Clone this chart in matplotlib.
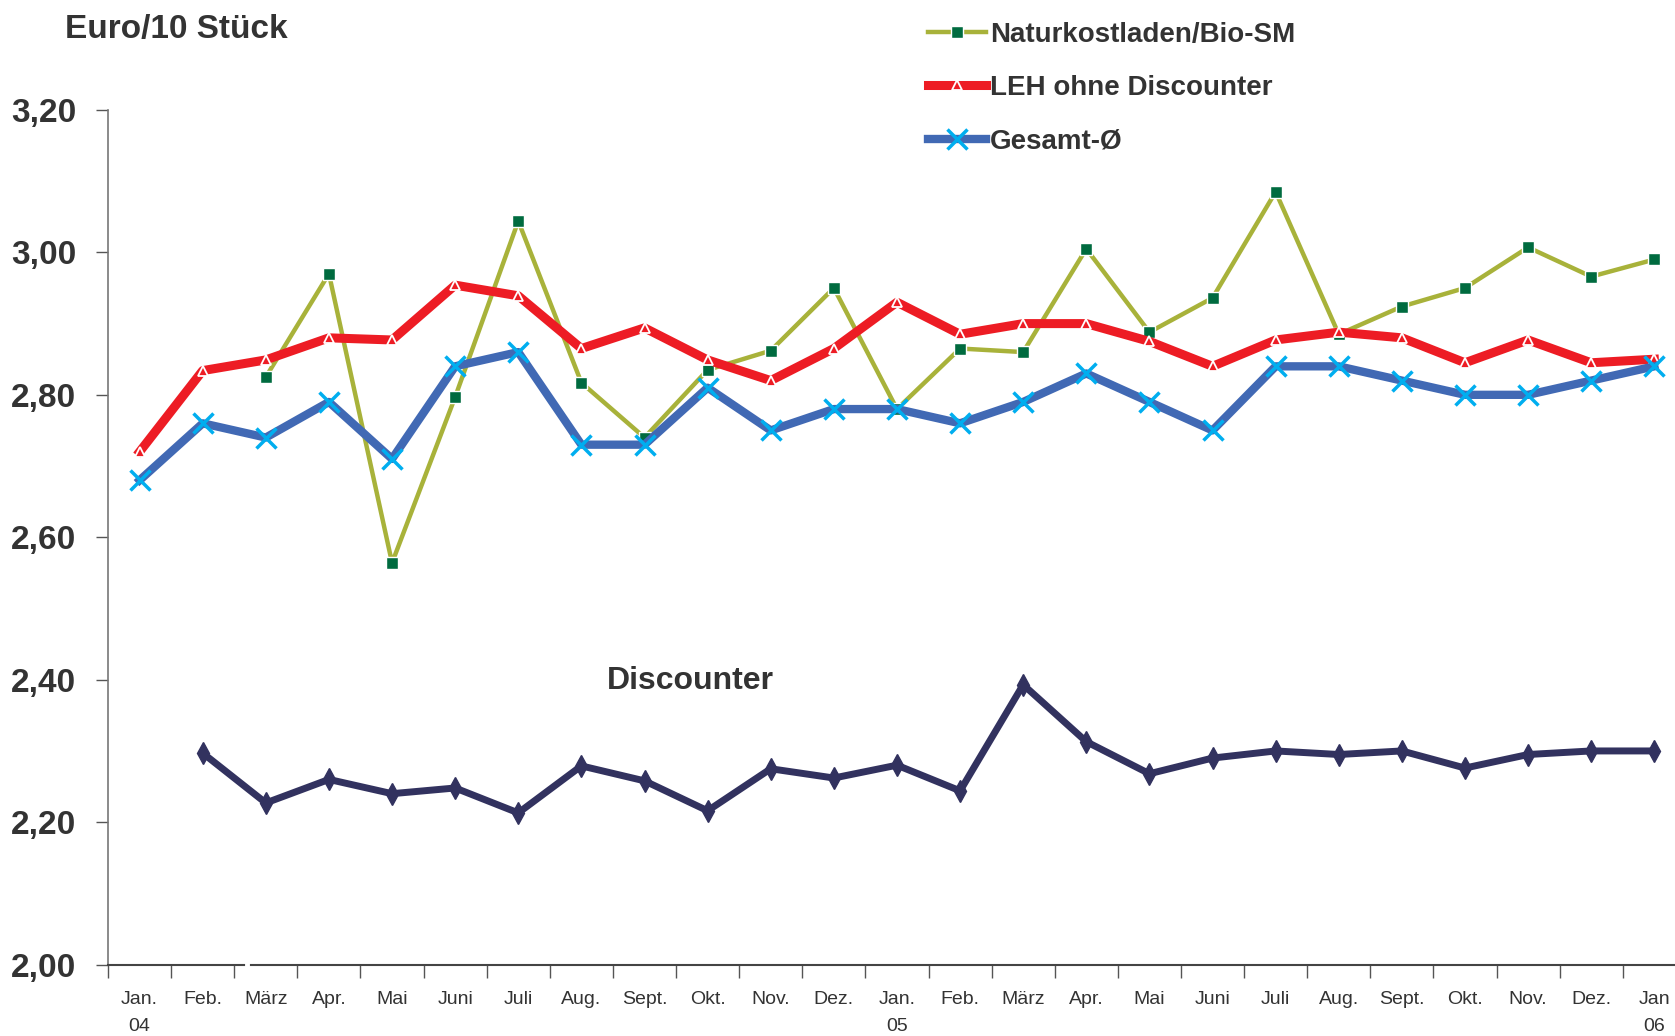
import numpy as np
import matplotlib
matplotlib.use("Agg")
import matplotlib.pyplot as plt
from matplotlib.ticker import FixedLocator, NullFormatter

plt.rcParams["font.family"] = ["Liberation Sans", "DejaVu Sans"]

# --- data -------------------------------------------------------------
MONTHS = ["Jan.\n04", "Feb.", "März", "Apr.", "Mai", "Juni", "Juli", "Aug.",
          "Sept.", "Okt.", "Nov.", "Dez.", "Jan.\n05", "Feb.", "März", "Apr.",
          "Mai", "Juni", "Juli", "Aug.", "Sept.", "Okt.", "Nov.", "Dez.",
          "Jan\n06"]

# Naturkostladen/Bio-SM: no values for Jan./Feb. 04
naturkost = [np.nan, np.nan, 2.825, 2.97, 2.564, 2.797, 3.044, 2.817, 2.74,
             2.835, 2.862, 2.95, 2.78, 2.865, 2.86, 3.005, 2.888, 2.936,
             3.085, 2.885, 2.924, 2.95, 3.007, 2.966, 2.99]

leh = [2.72, 2.834, 2.849, 2.88, 2.877, 2.954, 2.939, 2.865, 2.894, 2.849,
       2.82, 2.865, 2.93, 2.885, 2.90, 2.90, 2.875, 2.84, 2.877, 2.888,
       2.88, 2.845, 2.877, 2.845, 2.85]

gesamt = [2.68, 2.76, 2.74, 2.79, 2.71, 2.84, 2.86, 2.73, 2.73, 2.81, 2.75,
          2.78, 2.78, 2.76, 2.79, 2.83, 2.79, 2.75, 2.84, 2.84, 2.82, 2.80,
          2.80, 2.82, 2.84]

# Discounter: no value for Jan. 04
discounter = [np.nan, 2.297, 2.227, 2.26, 2.24, 2.248, 2.213, 2.279, 2.258,
              2.216, 2.275, 2.262, 2.28, 2.244, 2.393, 2.313, 2.268, 2.29,
              2.30, 2.295, 2.30, 2.276, 2.295, 2.30, 2.30]

Y_TICKS = [2.0, 2.2, 2.4, 2.6, 2.8, 3.0, 3.2]

TXT = "#333333"

fig = plt.figure(figsize=(16.75, 10.36), dpi=100)
ax = fig.add_axes([0.0645, 0.0689, 0.942, 0.825])

x = np.arange(len(MONTHS))

ax.plot(x, naturkost, color="#A8B23A", lw=3.2, marker="s", ms=9,
        mfc="#006B3F", mec="white", mew=1.0, zorder=3,
        label="Naturkostladen/Bio-SM")
ax.plot(x, leh, color="#ED1C24", lw=6.5, marker="^", ms=6.5,
        mfc="#ED1C24", mec="white", mew=1.3, zorder=4,
        label="LEH ohne Discounter")
ax.plot(x, gesamt, color="#4169B4", lw=6.0, marker="x", ms=15,
        mec="#00AEEF", mew=2.5, zorder=5, label="Gesamt-Ø")
ax.plot(x, discounter, color="#32325F", lw=5.0, marker="d", ms=11,
        mfc="#32325F", mec="#32325F", zorder=5)

# small white break that sits on the axis between Feb. and März
ax.plot([1.7, 1.7], [1.99, 2.235], color="white", lw=3.5, zorder=10,
        clip_on=False)

ax.text(8.72, 2.398, "Discounter", fontsize=23, fontweight="bold",
        color=TXT, ha="center", va="center")

ax.set_xlim(-0.5, len(MONTHS) - 0.5)
ax.set_ylim(2.0, 3.2)

ax.xaxis.set_major_locator(FixedLocator(x))
ax.set_xticklabels(MONTHS, fontsize=14, color=TXT, linespacing=1.75)
ax.xaxis.set_minor_locator(FixedLocator(np.arange(-0.5, len(MONTHS), 1.0)))
ax.xaxis.set_minor_formatter(NullFormatter())
ax.tick_params(axis="x", which="major", length=0, pad=19)
ax.tick_params(axis="x", which="minor", length=9, width=1.0, color="#555555")

ax.set_yticks(Y_TICKS)
ax.set_yticklabels([f"{v:.2f}".replace(".", ",") for v in Y_TICKS],
                   fontsize=24, fontweight="bold", color=TXT)
ax.tick_params(axis="y", length=9, width=1.0, color="#555555", pad=14)

for side in ("top", "right"):
    ax.spines[side].set_visible(False)
ax.spines["left"].set_color("#777777")
ax.spines["bottom"].set_color("#444444")
ax.spines["left"].set_linewidth(1.2)
ax.spines["bottom"].set_linewidth(1.5)

fig.text(0.039, 0.972, "Euro/10 Stück", fontsize=24, fontweight="bold",
         color=TXT, ha="left", va="center")

leg = fig.legend(loc="upper left", bbox_to_anchor=(0.539, 1.003),
                 frameon=False, fontsize=20, handlelength=2.1,
                 handletextpad=0.15, labelspacing=0.98, numpoints=1)
for t in leg.get_texts():
    t.set_fontweight("bold")
    t.set_color(TXT)

fig.savefig("out.png", dpi=100)
